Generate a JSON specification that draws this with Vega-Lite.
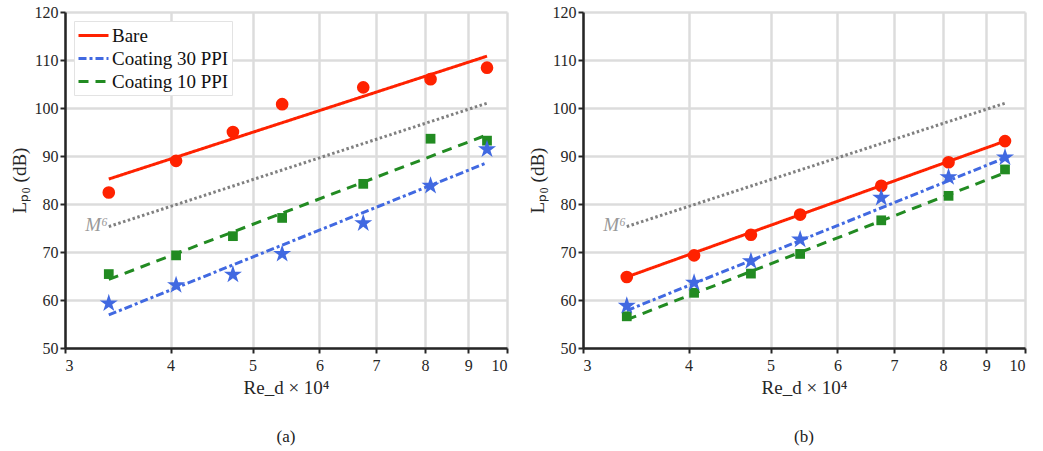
{
  "$schema": "https://vega.github.io/schema/vega-lite/v6.json",
  "padding": {"left": 10, "top": 4, "right": 4, "bottom": 4},
  "background": "white",
  "datasets": {
    "points": [
      {"panel": "a", "series": "Bare", "x": 3.38, "y": 82.4},
      {"panel": "a", "series": "Bare", "x": 4.06, "y": 89.0},
      {"panel": "a", "series": "Bare", "x": 4.74, "y": 95.0},
      {"panel": "a", "series": "Bare", "x": 5.42, "y": 100.8},
      {"panel": "a", "series": "Bare", "x": 6.76, "y": 104.3},
      {"panel": "a", "series": "Bare", "x": 8.12, "y": 106.0},
      {"panel": "a", "series": "Bare", "x": 9.47, "y": 108.4},
      {"panel": "a", "series": "Coating 30 PPI", "x": 3.38, "y": 59.3},
      {"panel": "a", "series": "Coating 30 PPI", "x": 4.06, "y": 63.1},
      {"panel": "a", "series": "Coating 30 PPI", "x": 4.74, "y": 65.3},
      {"panel": "a", "series": "Coating 30 PPI", "x": 5.42, "y": 69.6},
      {"panel": "a", "series": "Coating 30 PPI", "x": 6.76, "y": 76.0},
      {"panel": "a", "series": "Coating 30 PPI", "x": 8.12, "y": 83.8},
      {"panel": "a", "series": "Coating 30 PPI", "x": 9.47, "y": 91.4},
      {"panel": "a", "series": "Coating 10 PPI", "x": 3.38, "y": 65.4},
      {"panel": "a", "series": "Coating 10 PPI", "x": 4.06, "y": 69.3},
      {"panel": "a", "series": "Coating 10 PPI", "x": 4.74, "y": 73.3},
      {"panel": "a", "series": "Coating 10 PPI", "x": 5.42, "y": 77.1},
      {"panel": "a", "series": "Coating 10 PPI", "x": 6.76, "y": 84.2},
      {"panel": "a", "series": "Coating 10 PPI", "x": 8.12, "y": 93.6},
      {"panel": "a", "series": "Coating 10 PPI", "x": 9.47, "y": 93.2},
      {"panel": "b", "series": "Bare", "x": 3.38, "y": 64.8},
      {"panel": "b", "series": "Bare", "x": 4.06, "y": 69.3},
      {"panel": "b", "series": "Bare", "x": 4.74, "y": 73.6},
      {"panel": "b", "series": "Bare", "x": 5.42, "y": 77.8},
      {"panel": "b", "series": "Bare", "x": 6.76, "y": 83.8},
      {"panel": "b", "series": "Bare", "x": 8.12, "y": 88.7},
      {"panel": "b", "series": "Bare", "x": 9.47, "y": 93.1},
      {"panel": "b", "series": "Coating 30 PPI", "x": 3.38, "y": 58.8},
      {"panel": "b", "series": "Coating 30 PPI", "x": 4.06, "y": 63.6},
      {"panel": "b", "series": "Coating 30 PPI", "x": 4.74, "y": 68.1},
      {"panel": "b", "series": "Coating 30 PPI", "x": 5.42, "y": 72.6},
      {"panel": "b", "series": "Coating 30 PPI", "x": 6.76, "y": 81.3},
      {"panel": "b", "series": "Coating 30 PPI", "x": 8.12, "y": 85.6},
      {"panel": "b", "series": "Coating 30 PPI", "x": 9.47, "y": 89.7},
      {"panel": "b", "series": "Coating 10 PPI", "x": 3.38, "y": 56.6},
      {"panel": "b", "series": "Coating 10 PPI", "x": 4.06, "y": 61.5},
      {"panel": "b", "series": "Coating 10 PPI", "x": 4.74, "y": 65.5},
      {"panel": "b", "series": "Coating 10 PPI", "x": 5.42, "y": 69.6},
      {"panel": "b", "series": "Coating 10 PPI", "x": 6.76, "y": 76.6},
      {"panel": "b", "series": "Coating 10 PPI", "x": 8.12, "y": 81.7},
      {"panel": "b", "series": "Coating 10 PPI", "x": 9.47, "y": 87.2}
    ],
    "fits": [
      {"panel": "a", "series": "Bare", "x": 3.38, "y": 85.2},
      {"panel": "a", "series": "Bare", "x": 9.47, "y": 110.8},
      {"panel": "a", "series": "Coating 30 PPI", "x": 3.38, "y": 56.9},
      {"panel": "a", "series": "Coating 30 PPI", "x": 9.47, "y": 88.6},
      {"panel": "a", "series": "Coating 10 PPI", "x": 3.38, "y": 64.3},
      {"panel": "a", "series": "Coating 10 PPI", "x": 9.47, "y": 94.4},
      {"panel": "b", "series": "Bare", "x": 3.38, "y": 64.8},
      {"panel": "b", "series": "Bare", "x": 9.47, "y": 93.1},
      {"panel": "b", "series": "Coating 30 PPI", "x": 3.38, "y": 57.8},
      {"panel": "b", "series": "Coating 30 PPI", "x": 9.47, "y": 89.6},
      {"panel": "b", "series": "Coating 10 PPI", "x": 3.38, "y": 55.9},
      {"panel": "b", "series": "Coating 10 PPI", "x": 9.47, "y": 86.5}
    ],
    "m6": [
      {"panel": "a", "x": 3.38, "y": 75.3, "label": "M⁶"},
      {"panel": "a", "x": 9.47, "y": 101.0, "label": ""},
      {"panel": "b", "x": 3.38, "y": 75.3, "label": "M⁶"},
      {"panel": "b", "x": 9.47, "y": 101.0, "label": ""}
    ]
  },
  "config": {
    "font": "Liberation Serif",
    "view": {"stroke": null},
    "axis": {
      "grid": true,
      "gridColor": "#dcdcdc",
      "gridWidth": 2.5,
      "domainColor": "#262626",
      "domainWidth": 2.5,
      "tickColor": "#262626",
      "tickWidth": 2,
      "tickSize": 5,
      "labelFont": "Liberation Serif",
      "labelFontSize": 16,
      "labelColor": "#262626",
      "titleFont": "Liberation Serif",
      "titleFontSize": 19,
      "titleFontWeight": "normal",
      "titleColor": "#262626"
    },
    "legend": {
      "orient": "top-left",
      "offset": 9,
      "fillColor": "white",
      "strokeColor": "#e3e3e3",
      "padding": 3,
      "labelFont": "Liberation Serif",
      "labelFontSize": 19,
      "labelColor": "#111111",
      "labelOffset": 7,
      "rowPadding": 1,
      "symbolType": "M-1.5,0L1.5,0",
      "symbolSize": 400,
      "symbolOffset": 5,
      "symbolStrokeWidth": 3
    },
    "title": {"font": "Liberation Serif", "fontSize": 17, "fontWeight": "normal", "color": "#222222"}
  },
  "spacing": 20,
  "hconcat": [
    {
      "width": 442,
      "height": 336,
      "title": {"text": "(a)", "orient": "bottom", "offset": 32},
      "encoding": {
        "x": {"field": "x", "type": "quantitative",
              "scale": {"type": "log", "domain": [3, 10], "nice": false},
              "axis": {"values": [3, 4, 5, 6, 7, 8, 9, 10], "format": "d", "title": "Re_d × 10⁴", "labelPadding": 4, "titlePadding": 5}},
        "y": {"field": "y", "type": "quantitative",
              "scale": {"domain": [50, 120], "nice": false, "zero": false},
              "axis": {"values": [50, 60, 70, 80, 90, 100, 110, 120], "title": "Lₚ₀ (dB)", "labelPadding": 2, "titlePadding": 5}}
      },
      "layer": [
        {
          "data": {"name": "m6"},
          "transform": [{"filter": "datum.panel === 'a'"}],
          "mark": {"type": "line", "color": "#808080", "strokeWidth": 3, "strokeDash": [2.5, 2.5]}
        },
        {
          "data": {"name": "m6"},
          "transform": [{"filter": "datum.panel === 'a' && datum.label !== ''"}],
          "mark": {"type": "text", "align": "right", "baseline": "middle", "dx": -1, "dy": -2, "fontSize": 19, "fontStyle": "italic", "color": "#999999"},
          "encoding": {"text": {"field": "label"}}
        },
        {
          "data": {"name": "fits"},
          "transform": [{"filter": "datum.panel === 'a'"}],
          "mark": {"type": "line", "strokeWidth": 3},
          "encoding": {
            "color": {"field": "series", "type": "nominal",
                      "scale": {"domain": ["Bare", "Coating 30 PPI", "Coating 10 PPI"], "range": ["#ff2200", "#4169e1", "#228b22"]},
                      "legend": {"title": null}},
            "strokeDash": {"field": "series", "type": "nominal",
                           "scale": {"domain": ["Bare", "Coating 30 PPI", "Coating 10 PPI"], "range": [[1, 0], [8, 3, 3, 3], [10, 7]]},
                           "legend": {"title": null}}
          }
        },
        {
          "data": {"name": "points"},
          "transform": [{"filter": "datum.panel === 'a' && datum.series === 'Bare'"}],
          "mark": {"type": "point", "shape": "circle", "filled": true, "opacity": 1, "color": "#ff2200", "size": 160}
        },
        {
          "data": {"name": "points"},
          "transform": [{"filter": "datum.panel === 'a' && datum.series === 'Coating 10 PPI'"}],
          "mark": {"type": "point", "shape": "square", "filled": true, "opacity": 1, "color": "#228b22", "size": 95}
        },
        {
          "data": {"name": "points"},
          "transform": [{"filter": "datum.panel === 'a' && datum.series === 'Coating 30 PPI'"}],
          "mark": {"type": "point", "shape": "M0,-1L0.2245,-0.309L0.9511,-0.309L0.3633,0.118L0.5878,0.809L0,0.382L-0.5878,0.809L-0.3633,0.118L-0.9511,-0.309L-0.2245,-0.309Z", "filled": true, "opacity": 1, "color": "#4169e1", "size": 360}
        }
      ]
    },
    {
      "width": 442,
      "height": 336,
      "title": {"text": "(b)", "orient": "bottom", "offset": 32},
      "encoding": {
        "x": {"field": "x", "type": "quantitative",
              "scale": {"type": "log", "domain": [3, 10], "nice": false},
              "axis": {"values": [3, 4, 5, 6, 7, 8, 9, 10], "format": "d", "title": "Re_d × 10⁴", "labelPadding": 4, "titlePadding": 5}},
        "y": {"field": "y", "type": "quantitative",
              "scale": {"domain": [50, 120], "nice": false, "zero": false},
              "axis": {"values": [50, 60, 70, 80, 90, 100, 110, 120], "title": "Lₚ₀ (dB)", "labelPadding": 2, "titlePadding": 5}}
      },
      "layer": [
        {
          "data": {"name": "m6"},
          "transform": [{"filter": "datum.panel === 'b'"}],
          "mark": {"type": "line", "color": "#808080", "strokeWidth": 3, "strokeDash": [2.5, 2.5]}
        },
        {
          "data": {"name": "m6"},
          "transform": [{"filter": "datum.panel === 'b' && datum.label !== ''"}],
          "mark": {"type": "text", "align": "right", "baseline": "middle", "dx": -1, "dy": -2, "fontSize": 19, "fontStyle": "italic", "color": "#999999"},
          "encoding": {"text": {"field": "label"}}
        },
        {
          "data": {"name": "fits"},
          "transform": [{"filter": "datum.panel === 'b'"}],
          "mark": {"type": "line", "strokeWidth": 3},
          "encoding": {
            "color": {"field": "series", "type": "nominal",
                      "scale": {"domain": ["Bare", "Coating 30 PPI", "Coating 10 PPI"], "range": ["#ff2200", "#4169e1", "#228b22"]},
                      "legend": {"title": null}},
            "strokeDash": {"field": "series", "type": "nominal",
                           "scale": {"domain": ["Bare", "Coating 30 PPI", "Coating 10 PPI"], "range": [[1, 0], [8, 3, 3, 3], [10, 7]]},
                           "legend": {"title": null}}
          }
        },
        {
          "data": {"name": "points"},
          "transform": [{"filter": "datum.panel === 'b' && datum.series === 'Bare'"}],
          "mark": {"type": "point", "shape": "circle", "filled": true, "opacity": 1, "color": "#ff2200", "size": 160}
        },
        {
          "data": {"name": "points"},
          "transform": [{"filter": "datum.panel === 'b' && datum.series === 'Coating 10 PPI'"}],
          "mark": {"type": "point", "shape": "square", "filled": true, "opacity": 1, "color": "#228b22", "size": 95}
        },
        {
          "data": {"name": "points"},
          "transform": [{"filter": "datum.panel === 'b' && datum.series === 'Coating 30 PPI'"}],
          "mark": {"type": "point", "shape": "M0,-1L0.2245,-0.309L0.9511,-0.309L0.3633,0.118L0.5878,0.809L0,0.382L-0.5878,0.809L-0.3633,0.118L-0.9511,-0.309L-0.2245,-0.309Z", "filled": true, "opacity": 1, "color": "#4169e1", "size": 360}
        }
      ]
    }
  ]
}
